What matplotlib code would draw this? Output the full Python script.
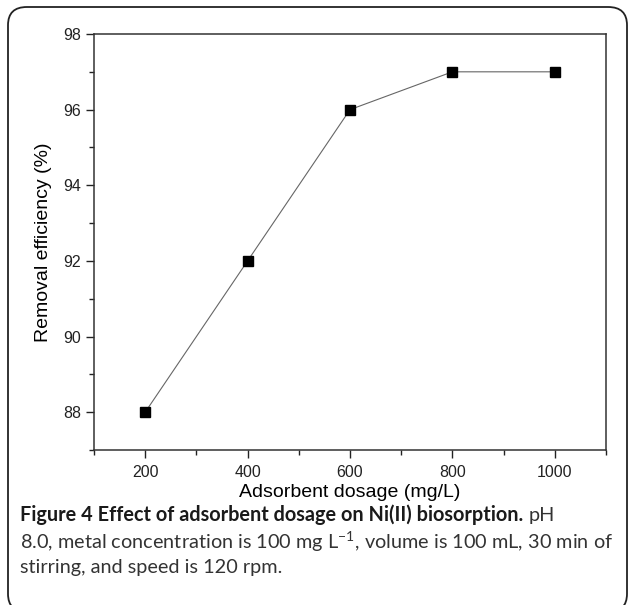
import matplotlib
matplotlib.use("Agg")
from matplotlib import pyplot as plt
from matplotlib.patches import FancyBboxPatch
from matplotlib.ticker import MultipleLocator

# data
dosage = [200, 400, 600, 800, 1000]
removal = [88, 92, 96, 97, 97]

plt.rcParams['font.family'] = ['Liberation Sans', 'DejaVu Sans']
plt.rcParams['mathtext.fontset'] = 'custom'
plt.rcParams['mathtext.rm'] = 'Lato'

W, H = 629, 605
fig = plt.figure(figsize=(W / 100, H / 100), dpi=100)

# rounded frame around the whole figure
frame = FancyBboxPatch((8 / W, 1 - 612 / H), 619 / W, 605 / H,
                       boxstyle="round,pad=0,rounding_size=0.03",
                       transform=fig.transFigure, fill=False,
                       edgecolor='#222222', linewidth=1.3, clip_on=False)
fig.patches.append(frame)

ax = fig.add_axes([94 / W, 1 - 450 / H, 512 / W, 416 / H])
ax.plot(dosage, removal, color='#666666', linewidth=0.8,
        marker='s', markersize=6.5, markerfacecolor='black', markeredgecolor='black')

ax.set_xlim(100, 1100)
ax.set_ylim(87, 98)
ax.xaxis.set_major_locator(MultipleLocator(200))
ax.xaxis.set_minor_locator(MultipleLocator(100))
ax.yaxis.set_major_locator(MultipleLocator(2))
ax.yaxis.set_minor_locator(MultipleLocator(1))
ax.tick_params(which='major', direction='out', length=6, width=1, labelsize=11.5, colors='#222222')
ax.tick_params(axis='x', which='major', pad=5)
ax.tick_params(which='minor', direction='out', length=3.5, width=1, colors='#222222')
for s in ax.spines.values():
    s.set_linewidth(1.1)
    s.set_color('#333333')

ax.set_xlabel('Adsorbent dosage (mg/L)', fontsize=14, labelpad=3)
ax.set_ylabel('Removal efficiency (%)', fontsize=14, labelpad=8)

# caption, bold part then regular part
cap_font = ['Lato', 'DejaVu Sans']
cap_size = 14.3
t1 = fig.text(20 / W, 1 - 515 / H, 'Figure 4 Effect of adsorbent dosage on Ni(II) biosorption.',
              fontsize=cap_size, fontweight='bold', family=cap_font, va='center', color='#1a1a1a')
fig.canvas.draw()
bb = t1.get_window_extent()
fig.text((bb.x1 + 5) / W, 1 - 515 / H, 'pH', fontsize=cap_size, family=cap_font,
         va='center', color='#333333')
fig.text(20 / W, 1 - 542 / H,
         r'8.0, metal concentration is 100 mg L$^{-1}$, volume is 100 mL, 30 min of',
         fontsize=cap_size, family=cap_font, va='center', color='#333333')
fig.text(20 / W, 1 - 568 / H, 'stirring, and speed is 120 rpm.',
         fontsize=cap_size, family=cap_font, va='center', color='#333333')

fig.savefig('out.png', dpi=100)
